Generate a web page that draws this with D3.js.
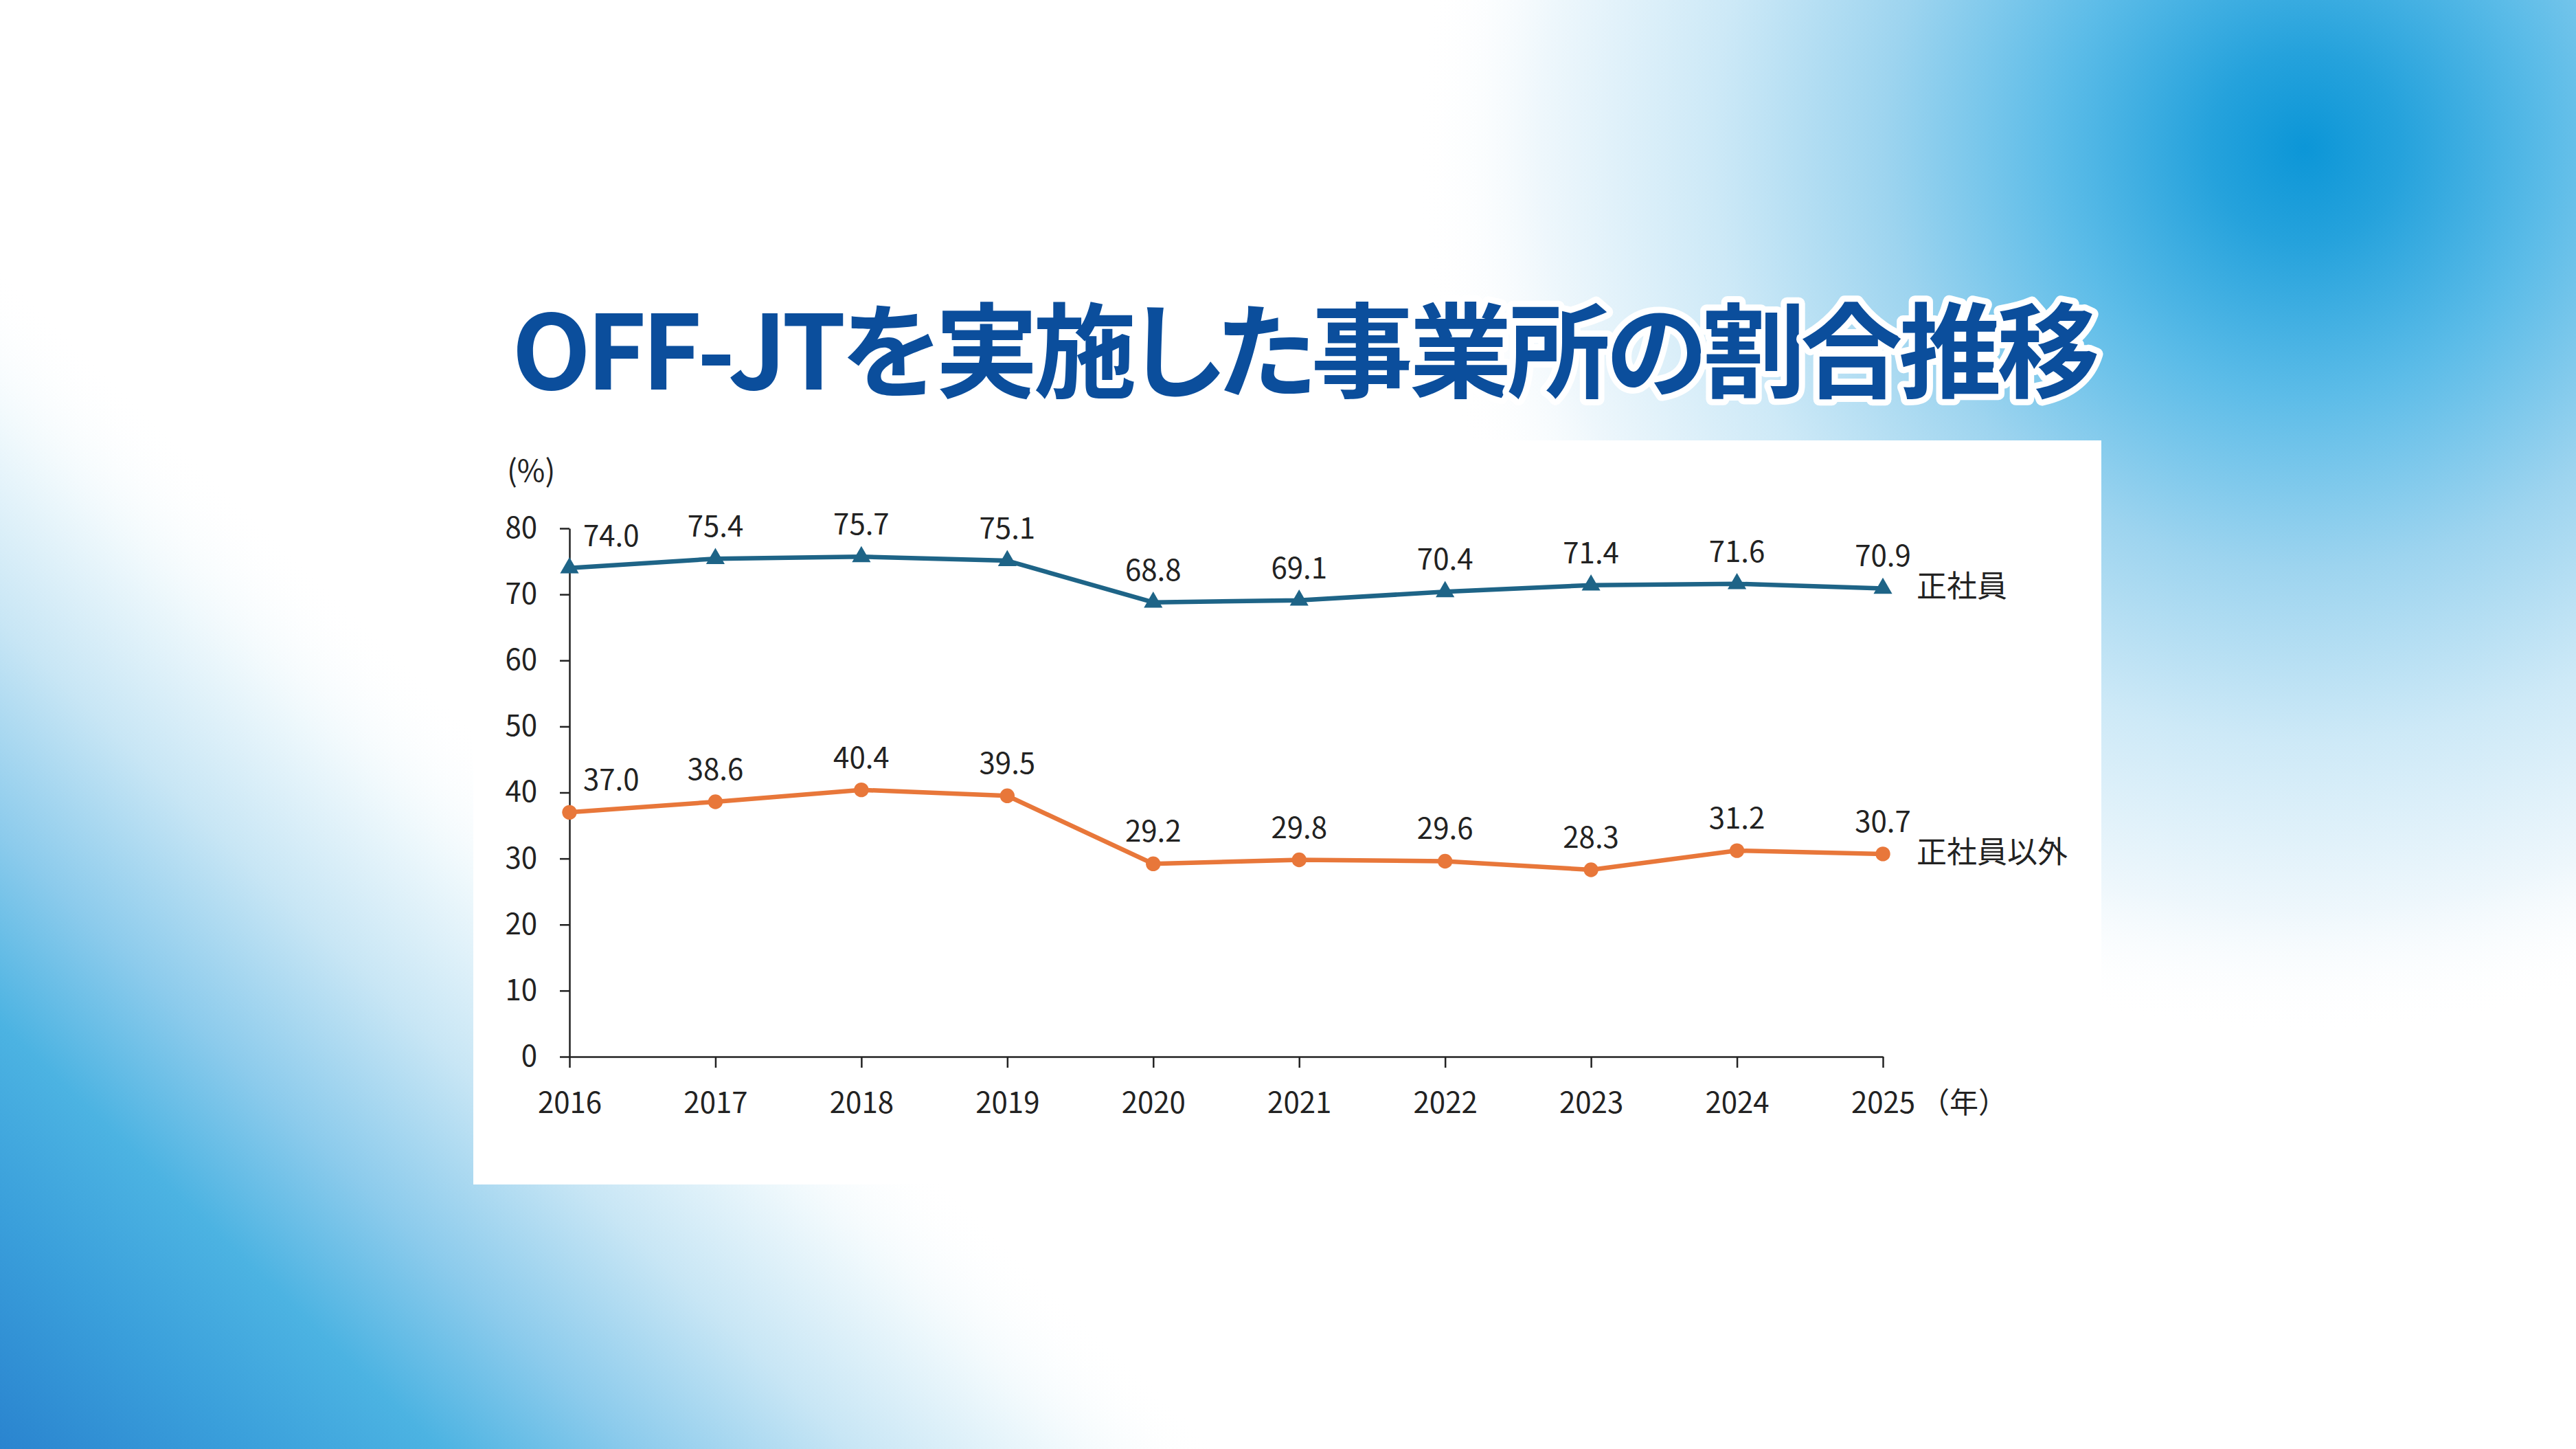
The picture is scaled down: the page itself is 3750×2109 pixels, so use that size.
<!DOCTYPE html>
<html lang="ja">
<head>
<meta charset="utf-8">
<script src="https://cdn.jsdelivr.net/npm/d3@7/dist/d3.min.js"></script>
<style>
  html, body { margin: 0; padding: 0; background: #fff; }
  svg { display: block; }
  text { font-family: "Noto Sans CJK JP", "Noto Sans", sans-serif; }
</style>
</head>
<body>
<script>
// ---- data ----
const years = [2016, 2017, 2018, 2019, 2020, 2021, 2022, 2023, 2024, 2025];
const seishain = [74.0, 75.4, 75.7, 75.1, 68.8, 69.1, 70.4, 71.4, 71.6, 70.9];
const seishainIgai = [37.0, 38.6, 40.4, 39.5, 29.2, 29.8, 29.6, 28.3, 31.2, 30.7];
const seriesNames = ["正社員", "正社員以外"];
const yTicks = [0, 10, 20, 30, 40, 50, 60, 70, 80];
const titleText = "OFF-JTを実施した事業所の割合推移";
const yUnit = "(%)";
const xUnit = "（年）";

const W = 3750, H = 2109;
const svg = d3.select("body").append("svg").attr("width", W).attr("height", H);
const defs = svg.append("defs");

// background gradients
const rg = defs.append("radialGradient").attr("id", "bgTR")
  .attr("gradientUnits", "userSpaceOnUse").attr("cx", 3355).attr("cy", 215).attr("r", 1390);
[[0, "#0c96d7", 1], [0.1, "#25a2dc", 1], [0.26, "#5cbce8", 1], [0.44, "#9dd4ef", 1],
 [0.62, "#cde9f7", 1], [0.8, "#eef7fc", 1], [0.93, "#ffffff", 0]].forEach(([o, c, a]) =>
  rg.append("stop").attr("offset", o).attr("stop-color", c).attr("stop-opacity", a));

const lg = defs.append("linearGradient").attr("id", "bgBL")
  .attr("gradientUnits", "userSpaceOnUse").attr("x1", 0).attr("y1", 2109).attr("x2", 860).attr("y2", 1220);
[[0, "#2a84cf", 1], [0.2, "#3a9fdb", 1], [0.36, "#4cb3e2", 1], [0.52, "#8ccbec", 1],
 [0.7, "#c8e6f5", 1], [0.86, "#eef8fc", 1], [1, "#ffffff", 0]].forEach(([o, c, a]) =>
  lg.append("stop").attr("offset", o).attr("stop-color", c).attr("stop-opacity", a));

svg.append("rect").attr("width", W).attr("height", H).attr("fill", "#ffffff");
svg.append("rect").attr("width", W).attr("height", H).attr("fill", "url(#bgTR)");
svg.append("rect").attr("width", W).attr("height", H).attr("fill", "url(#bgBL)");

// title
svg.append("text")
  .attr("x", 745).attr("y", 567)
  .attr("font-size", 150).attr("font-weight", 700)
  .style("font-feature-settings", "'palt'")
  .attr("fill", "#0b4e9c")
  .attr("stroke", "#ffffff").attr("stroke-width", 18).attr("stroke-linejoin", "round")
  .attr("paint-order", "stroke")
  .attr("textLength", 2312).attr("lengthAdjust", "spacing")
  .text(titleText);

// chart panel
svg.append("rect").attr("x", 689).attr("y", 641).attr("width", 3059 - 689).attr("height", 1724 - 641).attr("fill", "#ffffff");

const x = d3.scalePoint().domain(years).range([829, 2741]);
const y = d3.scaleLinear().domain([0, 80]).range([1538, 769]);
const fs = 42;
const ink = "#222222";

// axes
const yAxis = svg.append("g").attr("transform", `translate(${x(years[0])},0)`)
  .call(d3.axisLeft(y).tickValues(yTicks).tickSize(14).tickSizeOuter(0).tickPadding(33));
const xAxis = svg.append("g").attr("transform", `translate(0,${y(0)})`)
  .call(d3.axisBottom(x).tickSize(16).tickSizeOuter(0).tickPadding(36));
[yAxis, xAxis].forEach(g => {
  g.selectAll("path.domain").attr("stroke", ink).attr("stroke-width", 2.5);
  g.selectAll(".tick line").attr("stroke", ink).attr("stroke-width", 2.5);
  g.selectAll(".tick text").attr("font-size", fs).attr("fill", ink)
    .attr("font-family", "'Noto Sans CJK JP', 'Noto Sans', sans-serif");
});

svg.append("text").attr("x", 738).attr("y", 701).attr("font-size", 44).attr("fill", ink).text(yUnit);
svg.append("text").attr("x", 2796).attr("y", 1620).attr("font-size", fs).attr("fill", ink).text(xUnit);

// series
const series = [
  { name: seriesNames[0], values: seishain, color: "#1e6487", symbol: d3.symbolTriangle, size: 320 },
  { name: seriesNames[1], values: seishainIgai, color: "#e8773a", symbol: d3.symbolCircle, size: 360 }
];
const line = d3.line().x((d, i) => x(years[i])).y(d => y(d));

series.forEach(s => {
  svg.append("path").datum(s.values).attr("d", line)
    .attr("fill", "none").attr("stroke", s.color).attr("stroke-width", 6.5).attr("stroke-linejoin", "round");
  svg.append("g").selectAll("path").data(s.values).join("path")
    .attr("transform", (d, i) => `translate(${x(years[i])},${y(d)})`)
    .attr("d", d3.symbol().type(s.symbol).size(s.size))
    .attr("fill", s.color);
  svg.append("g").selectAll("text").data(s.values).join("text")
    .attr("x", (d, i) => i === 0 ? x(years[i]) + 20 : x(years[i]))
    .attr("y", d => y(d) - 32)
    .attr("text-anchor", (d, i) => i === 0 ? "start" : "middle")
    .attr("font-size", fs).attr("fill", ink)
    .text(d => d.toFixed(1));
  const last = s.values[s.values.length - 1];
  svg.append("text").attr("x", x(years[years.length - 1]) + 49).attr("y", y(last) - 3)
    .attr("dy", "0.36em").attr("font-size", 44).attr("fill", ink).text(s.name);
});
</script>
</body>
</html>
